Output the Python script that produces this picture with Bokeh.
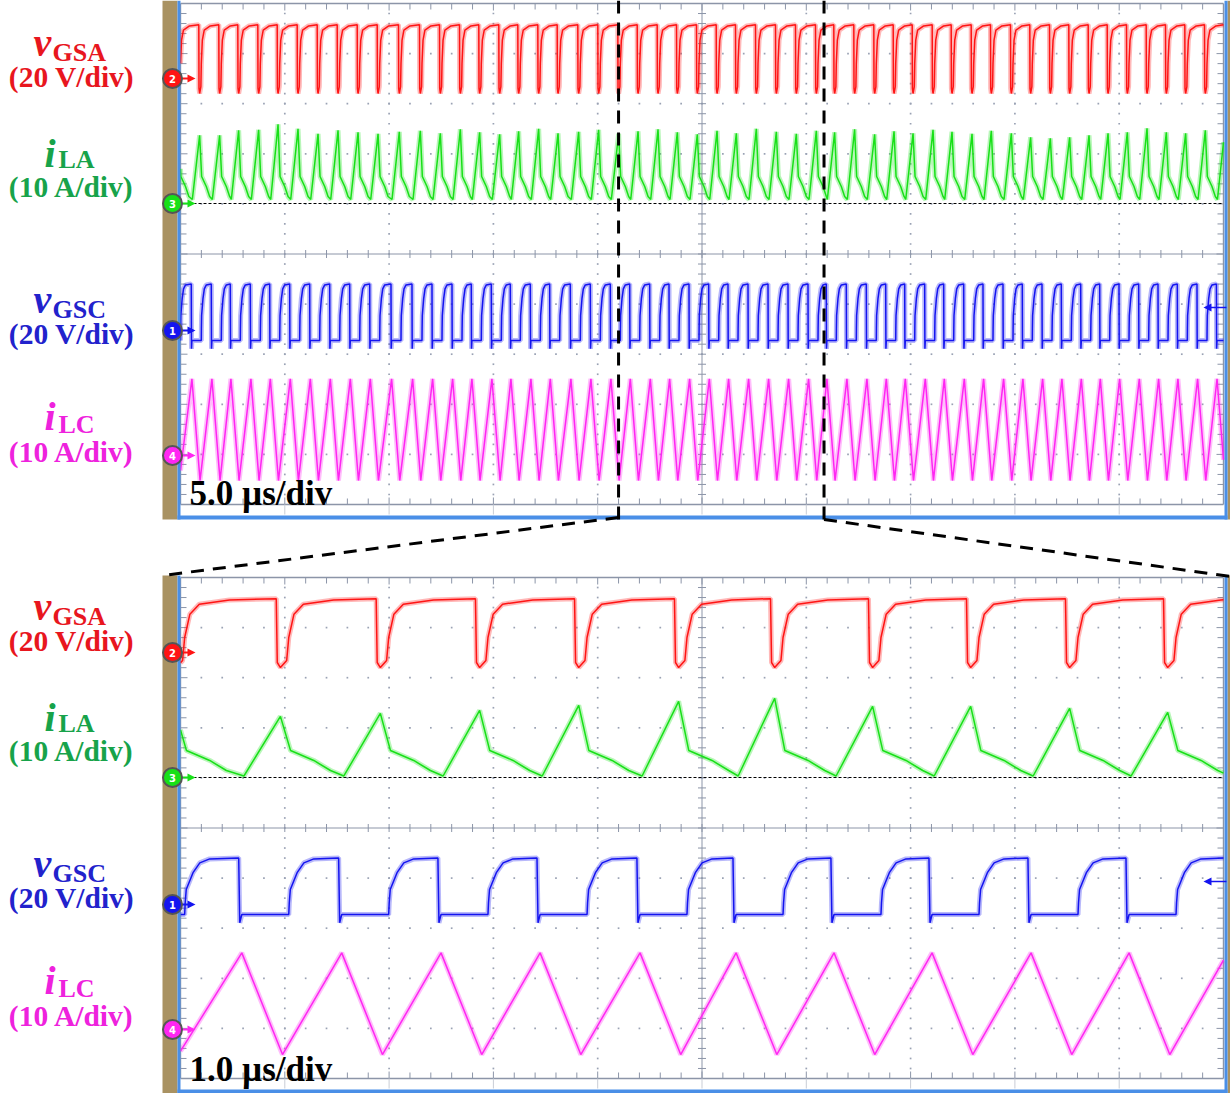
import numpy as np
from bokeh.plotting import figure
from bokeh.models import Range1d
from bokeh.core.properties import value
from bokeh.embed import file_html
from bokeh.resources import INLINE

# ---------------- values ----------------
top_us_per_div = 5.0
bottom_us_per_div = 1.0
zoom_window_us = [21.0, 30.85]          # part of the upper capture shown below

channel_numbers = ["2", "3", "1", "4"]
channel_units_per_div = [20.0, 10.0, 20.0, 10.0]   # V/div, A/div
label_main = ["v", "i", "v", "i"]
label_sub = ["GSA", "LA", "GSC", "LC"]
label_scale = ["(20 V/div)", "(10 A/div)", "(20 V/div)", "(10 A/div)"]

# falling edges of v_GSA (us) in the 5 us/div capture (last one is past the screen)
top_edges_us = [-0.12, 0.877, 1.836, 2.747, 3.706, 4.636, 5.594, 6.553, 7.512, 8.471,
                9.430, 10.45, 11.457, 12.416, 13.375, 14.300, 15.259, 16.170, 17.129,
                18.058, 19.046, 20.005, 20.964, 21.894, 22.852, 23.778, 24.736, 25.681,
                26.606, 27.565, 28.524, 29.482, 30.441, 31.318, 32.277, 33.236, 34.166,
                35.077, 36.035, 36.946, 37.905, 38.830, 39.789, 40.714, 41.659, 42.584,
                43.514, 44.425, 45.350, 46.294, 47.220, 48.145, 49.089, 50.02, 50.96]
# falling edges of v_GSA (us) in the 1 us/div capture
bottom_edges_us = [-0.08, 0.918, 1.876, 2.828, 3.778, 4.736, 5.657, 6.596, 7.536,
                   8.485, 9.425, 10.37]

# peak of i_LA (A) in each switching period
top_iLA_peak_A = [14.0, 13.6, 13.6, 14.6, 14.7, 15.8, 14.9, 13.9, 14.6, 14.2, 13.9, 14.3,
                  14.5, 14.0, 14.8, 14.2, 13.8, 14.4, 14.9, 14.0, 14.3, 14.7, 13.9, 14.4,
                  14.8, 14.2, 13.8, 14.5, 14.0, 14.9, 14.3, 13.9, 14.5, 14.2, 14.8, 13.8,
                  14.4, 14.0, 14.7, 14.3, 13.9, 14.5, 14.0, 13.2, 13.0, 13.2, 13.6, 14.0,
                  14.2, 15.0, 14.2, 14.0, 14.6, 14.6, 14.0]
bottom_iLA_peak_A = [12.4, 12.2, 12.8, 13.4, 14.4, 15.2, 15.8, 14.2, 14.2, 13.8, 13.0, 13.0]

# v_GSA shape after each falling edge
vGSA_dt_us = [0.0, 0.01, 0.04, 0.10, 0.12, 0.17, 0.26, 0.55]
vGSA_V = [21.5, -4.0, -6.0, -3.2, 6.0, 15.3, 19.3, 21.0]
# v_GSC: rise after the v_GSA edge, fall before the next v_GSA edge
vGSC_rise_dt_us = [0.12, 0.125, 0.135, 0.20, 0.265, 0.36]
vGSC_rise_V = [-4.0, 0.7, 6.0, 12.7, 16.6, 18.2]
vGSC_fall_lead_us = [0.36, 0.35, 0.33]
vGSC_fall_V = [18.6, -7.3, -4.0]
# i_LA: peak just after the edge, fast then slow decay, valley before next edge
iLA_peak_lag_us = 0.04
iLA_decay_dt_us = [0.137, 0.36, 0.52]
iLA_decay_A = [5.4, 3.4, 1.4]
iLA_valley_lead_us = 0.31
iLA_valley_A = [0.8, 0.3]          # top, bottom capture
# i_LC: triangle
iLC_valley_lag_us = 0.06
iLC_peak_lead_us = 0.33
iLC_valley_A = -5.0
iLC_peak_A = 15.3

trace_colors = ["#ff1414", "#18e018", "#1414f0", "#ff26f2"]
label_colors = ["#e8161e", "#17a34a", "#2222cc", "#ee22dd"]

# ---------------- layout (pixels) ----------------
W, H = 1230, 1093
GX0, GX1 = 180.0, 1223.0
PX_DIV_X = (GX1 - GX0) / 10.0
PX_DIV_Y = 50.1
marker_px_top = [78.0, 203.0, 330.0, 455.0]
trigger_px_top = 307.0
PANEL_SHIFT = 574.0
LABEL_SHIFT = 564.0

p = figure(width=W, height=H, x_range=Range1d(0, W), y_range=Range1d(H, 0),
           output_backend="svg", toolbar_location=None, min_border=0,
           x_axis_location=None, y_axis_location=None)
p.outline_line_color = None
p.grid.visible = False
p.background_fill_color = "white"
p.border_fill_color = "white"

SERIF = value("Liberation Serif")


def clip(t, y, lo, hi):
    t = np.asarray(t, float)
    y = np.asarray(y, float)
    keep = (t > lo) & (t < hi)
    ts = np.concatenate([[lo], t[keep], [hi]])
    ys = np.concatenate([[np.interp(lo, t, y)], y[keep], [np.interp(hi, t, y)]])
    return ts, ys


def build_vGSA(edges):
    t, v = [], []
    for e in edges:
        for dt, val in zip(vGSA_dt_us, vGSA_V):
            t.append(e + dt)
            v.append(val)
    return t, v


def build_vGSC(edges):
    t, v = [], []
    for e, n in zip(edges[:-1], edges[1:]):
        for dt, val in zip(vGSC_rise_dt_us, vGSC_rise_V):
            t.append(e + dt)
            v.append(val)
        for ld, val in zip(vGSC_fall_lead_us, vGSC_fall_V):
            t.append(n - ld)
            v.append(val)
    return t, v


def build_iLA(edges, peaks, valley):
    t, v = [], []
    for i, (e, n) in enumerate(zip(edges[:-1], edges[1:])):
        t.append(e + iLA_peak_lag_us)
        v.append(peaks[i])
        for dt, val in zip(iLA_decay_dt_us, iLA_decay_A):
            t.append(e + dt)
            v.append(val)
        t.append(n - iLA_valley_lead_us)
        v.append(valley)
    t.append(edges[-1] + iLA_peak_lag_us)
    v.append(peaks[len(edges) - 1])
    return t, v


def build_iLC(edges):
    t, v = [], []
    for e, n in zip(edges[:-1], edges[1:]):
        t.append(e + iLC_valley_lag_us)
        v.append(iLC_valley_A)
        t.append(n - iLC_peak_lead_us)
        v.append(iLC_peak_A)
    return t, v


panels = [
    dict(key="top", shift=0.0, tdiv=top_us_per_div, edges=top_edges_us,
         peaks=top_iLA_peak_A, valley=iLA_valley_A[0], top=0.0, bottom=519.0,
         scale_text="5.0 \u00b5s/div", scale_y=493.0),
    dict(key="bot", shift=PANEL_SHIFT, tdiv=bottom_us_per_div, edges=bottom_edges_us,
         peaks=bottom_iLA_peak_A, valley=iLA_valley_A[1], top=575.0, bottom=1093.0,
         scale_text="1.0 \u00b5s/div", scale_y=1069.0),
]

for pan in panels:
    sh = pan["shift"]
    y0 = 3.0 + sh
    y1 = y0 + 10 * PX_DIV_Y
    cx = GX0 + 5 * PX_DIV_X
    cy = y0 + 5 * PX_DIV_Y
    grid_col = "#8c95a8"

    # dotted graticule
    dx, dy = [], []
    for k in range(1, 10):
        if k == 5:
            continue
        xk = GX0 + k * PX_DIV_X
        yk = y0 + k * PX_DIV_Y
        for j in range(1, 50):
            dx.append(xk); dy.append(y0 + j * PX_DIV_Y / 5)
            dx.append(GX0 + j * PX_DIV_X / 5); dy.append(yk)
    p.scatter(dx, dy, marker="square", size=1.7, fill_color="#9aa2b4",
              line_color=None)

    # frame and center lines
    p.segment(x0=[GX0, GX0, GX0, GX1, GX0, cx], y0=[y0, y1, y0, y0, cy, y0],
              x1=[GX1, GX1, GX0, GX1, GX1, cx], y1=[y0, y1, y1, y1, cy, y1],
              line_color=grid_col, line_width=[1.4, 1.4, 1.4, 1.4, 1.0, 1.0])
    # ticks
    sx0, sy0, sx1, sy1 = [], [], [], []
    for j in range(1, 50):
        xj = GX0 + j * PX_DIV_X / 5
        yj = y0 + j * PX_DIV_Y / 5
        L = 7 if j % 5 == 0 else 6
        sx0 += [xj, xj, GX0, GX1, xj, cx - 4]
        sy0 += [y0, y1 - L, yj, yj, cy - 4, yj]
        sx1 += [xj, xj, GX0 + L, GX1 - L, xj, cx + 4]
        sy1 += [y0 + L, y1, yj, yj, cy + 4, yj]
    p.segment(x0=sx0, y0=sy0, x1=sx1, y1=sy1, line_color=grid_col, line_width=1)
    for k in range(1, 10):
        xk = GX0 + k * PX_DIV_X
        p.segment(x0=[xk], y0=[y1], x1=[xk], y1=[y1 + 10], line_color="#c9cdd6",
                  line_width=1)

    # ranges for this capture
    ppu_t = PX_DIV_X / pan["tdiv"]
    tname = pan["key"] + "_t"
    p.extra_x_ranges[tname] = Range1d(-GX0 / ppu_t, (W - GX0) / ppu_t)
    tmax = 10 * pan["tdiv"]
    edges = pan["edges"]
    traces = [build_vGSA(edges),
              build_iLA(edges, pan["peaks"], pan["valley"]),
              build_vGSC(edges),
              build_iLC(edges)]
    for c in range(4):
        ym = marker_px_top[c] + sh
        ppu = PX_DIV_Y / channel_units_per_div[c]
        yname = "%s_ch%d" % (pan["key"], c)
        p.extra_y_ranges[yname] = Range1d((ym - H) / ppu, ym / ppu)
        ts, vs = clip(traces[c][0], traces[c][1], 0.0, tmax)
        p.line(ts, vs, x_range_name=tname, y_range_name=yname,
               line_color=trace_colors[c], line_width=5.0, line_alpha=0.3)
        p.line(ts, vs, x_range_name=tname, y_range_name=yname,
               line_color=trace_colors[c], line_width=1.5)

    # i_LA zero line
    ymg = marker_px_top[1] + sh
    p.segment(x0=[193], y0=[ymg], x1=[GX1], y1=[ymg], line_color="black",
              line_width=1, line_dash="3 2")

    # bezel
    p.quad(left=[162], right=[177], top=[pan["top"]], bottom=[pan["bottom"]],
           fill_color="#a99262", line_color=None)
    p.quad(left=[1227], right=[1230], top=[pan["top"]], bottom=[pan["bottom"]],
           fill_color="#a99262", line_color=None)
    blue = "#4a8fe7"
    p.quad(left=[177, 1224, 177], right=[180, 1227, 1227],
           top=[pan["top"], pan["top"], pan["bottom"] - 4],
           bottom=[pan["bottom"], pan["bottom"], pan["bottom"]],
           fill_color=blue, line_color=None)

    # channel markers
    mys = [m + sh for m in marker_px_top]
    heads_x, heads_y = [], []
    for c in range(4):
        ym = mys[c]
        heads_x.append([187, 195, 187])
        heads_y.append([ym - 4, ym, ym + 4])
    p.segment(x0=[179] * 4, y0=mys, x1=[189] * 4, y1=mys,
              line_color=trace_colors, line_width=2)
    p.patches(heads_x, heads_y, fill_color=trace_colors, line_color=None)
    p.scatter([172] * 4, mys, size=19, fill_color=trace_colors,
              line_color="#555555", line_width=2)
    p.text([172] * 4, mys, text=channel_numbers, text_color="white",
           text_font=value("DejaVu Sans"), text_font_size="10px",
           text_font_style="bold", text_align="center", text_baseline="middle")
    # trigger level arrow (v_GSC)
    ty = trigger_px_top + sh
    p.segment(x0=[1208], y0=[ty], x1=[1226], y1=[ty], line_color=trace_colors[2],
              line_width=1.5)
    p.patches([[1211, 1203, 1211]], [[ty - 4, ty, ty + 4]],
              fill_color=trace_colors[2], line_color=None)

    # time-base text
    p.text([189], [pan["scale_y"]], text=[pan["scale_text"]], text_color="black",
           text_font=SERIF, text_font_size="35px", text_font_style="bold",
           text_align="left", text_baseline="alphabetic")

    # channel labels
    ls = LABEL_SHIFT if pan["key"] == "bot" else 0.0
    main_x = [33, 44, 33, 44]
    main_y = [42, 153, 299, 416]
    sub_x = [52, 58, 52, 58]
    sub_y = [52, 159, 309, 424]
    sc_y = [76, 186, 333, 451]
    p.text(main_x, [v + ls for v in main_y], text=label_main, text_color=label_colors,
           text_font=SERIF, text_font_size="40px", text_font_style="bold italic",
           text_align="left", text_baseline="alphabetic")
    p.text(sub_x, [v + ls for v in sub_y], text=label_sub, text_color=label_colors,
           text_font=SERIF, text_font_size="26px", text_font_style="bold",
           text_align="left", text_baseline="alphabetic")
    p.text([71] * 4, [v + ls for v in sc_y], text=label_scale, text_color=label_colors,
           text_font=SERIF, text_font_size="29.5px", text_font_style="bold",
           text_align="center", text_baseline="alphabetic")

# zoom indication
zx = [GX0 + t * PX_DIV_X / top_us_per_div for t in zoom_window_us]
p.segment(x0=zx, y0=[0, 0], x1=zx, y1=[519, 519], line_color="black",
          line_width=3, line_dash="13 9")
p.segment(x0=zx, y0=[517, 519], x1=[162, 1230], y1=[575, 576], line_color="black",
          line_width=3, line_dash="13 9")

open("out.html", "w").write(file_html(p, INLINE))
